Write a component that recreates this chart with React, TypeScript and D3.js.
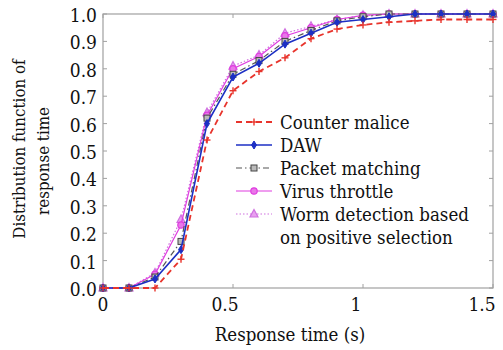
import React from "react";
import * as d3 from "d3";

const xValues = [0, 0.1, 0.2, 0.3, 0.4, 0.5, 0.6, 0.7, 0.8, 0.9, 1.0, 1.1, 1.2, 1.3, 1.4, 1.5];
const counterMalice = [0, 0, 0, 0.105, 0.54, 0.72, 0.79, 0.84, 0.91, 0.945, 0.96, 0.97, 0.975, 0.98, 0.98, 0.98];
const daw = [0, 0, 0.033, 0.14, 0.6, 0.77, 0.82, 0.89, 0.93, 0.97, 0.98, 0.99, 1.0, 1.0, 1.0, 1.0];
const packetMatching = [0, 0, 0.04, 0.17, 0.62, 0.78, 0.83, 0.9, 0.94, 0.975, 0.99, 1.0, 1.0, 1.0, 1.0, 1.0];
const virusThrottle = [0, 0, 0.05, 0.23, 0.63, 0.8, 0.845, 0.92, 0.95, 0.98, 0.995, 1.0, 1.0, 1.0, 1.0, 1.0];
const wormDetection = [0, 0, 0.055, 0.25, 0.64, 0.81, 0.85, 0.93, 0.955, 0.98, 0.995, 1.0, 1.0, 1.0, 1.0, 1.0];

const xTicks = [0, 0.5, 1, 1.5];
const xTickLabels = ["0", "0.5", "1", "1.5"];
const yTicks = [0, 0.1, 0.2, 0.3, 0.4, 0.5, 0.6, 0.7, 0.8, 0.9, 1.0];

const seriesNames = ["Counter malice", "DAW", "Packet matching", "Virus throttle", "Worm detection based"];

type Series = {
  name: string;
  values: number[];
  color: string;
  dash: string;
  marker: string;
  width: number;
};

const series: Series[] = [
  { name: seriesNames[0], values: counterMalice, color: "#e8342c", dash: "6,4", marker: "plus", width: 1.8 },
  { name: seriesNames[1], values: daw, color: "#1c2fc4", dash: "", marker: "diamond", width: 1.6 },
  { name: seriesNames[2], values: packetMatching, color: "#555555", dash: "6,3,1.5,3", marker: "square", width: 1.2 },
  { name: seriesNames[3], values: virusThrottle, color: "#e03ce0", dash: "", marker: "circle", width: 1.2 },
  { name: seriesNames[4], values: wormDetection, color: "#d070e0", dash: "1.5,2", marker: "triangle", width: 1.2 },
];

const FONT = '"DejaVu Serif Condensed", "DejaVu Serif"';
const textStyle = { fontFamily: FONT, fontStretch: "condensed" as const };

function Marker({ type, x, y, color }: { type: string; x: number; y: number; color: string }) {
  if (type === "plus") {
    return (
      <g stroke={color} strokeWidth={1.4}>
        <line x1={x - 3.5} x2={x + 3.5} y1={y} y2={y} />
        <line x1={x} x2={x} y1={y - 3.5} y2={y + 3.5} />
      </g>
    );
  }
  if (type === "diamond") {
    return <path d={`M${x},${y - 4}L${x + 2.5},${y}L${x},${y + 4}L${x - 2.5},${y}Z`} fill={color} stroke={color} strokeWidth={1} />;
  }
  if (type === "square") {
    return <rect x={x - 3} y={y - 3} width={6} height={6} fill="#bbbbbb" stroke="#444" strokeWidth={1} />;
  }
  if (type === "circle") {
    return <circle cx={x} cy={y} r={3.2} fill="#e878e8" stroke={color} strokeWidth={1.2} />;
  }
  return <path d={`M${x},${y - 4.5}L${x + 4},${y + 3}L${x - 4},${y + 3}Z`} fill="#e8a0f0" stroke={color} strokeWidth={1.2} />;
}

export default function App() {
  const W = 503;
  const H = 350;
  const left = 103;
  const right = 493;
  const top = 14;
  const bottom = 288;
  const x = d3.scaleLinear().domain([0, 1.5]).range([left, right]);
  const y = d3.scaleLinear().domain([0, 1]).range([bottom, top]);

  const lineGen = (vals: number[]) =>
    d3
      .line<number>()
      .x((_, i) => x(xValues[i]))
      .y((d) => y(d))(vals) || "";

  const legendRows = [122, 145, 168, 191, 214];
  const xLabelShift = [0, -8, -7, -11];

  return (
    <svg width={W} height={H} style={{ position: "absolute", left: 0, top: 0, background: "#fff" }}>
      <rect x={0} y={0} width={W} height={H} fill="#fff" />
      <rect x={left} y={top} width={right - left} height={bottom - top} fill="none" stroke="#a0a0a0" strokeWidth={1.2} />
      {yTicks.map((t) => (
        <g key={"y" + t}>
          <line x1={left} x2={left + 4} y1={y(t)} y2={y(t)} stroke="#a0a0a0" />
          <line x1={right} x2={right - 4} y1={y(t)} y2={y(t)} stroke="#a0a0a0" />
          <text x={97} y={y(t) + 1} textAnchor="end" dominantBaseline="central" fontSize={19} fill="#111" style={textStyle}>
            {t.toFixed(1)}
          </text>
        </g>
      ))}
      {xTicks.map((t, i) => (
        <g key={"x" + t}>
          <line x1={x(t)} x2={x(t)} y1={bottom} y2={bottom - 4} stroke="#a0a0a0" />
          <line x1={x(t)} x2={x(t)} y1={top} y2={top + 4} stroke="#a0a0a0" />
          <text x={x(t) + xLabelShift[i]} y={311} textAnchor="middle" fontSize={19} fill="#111" style={textStyle}>
            {xTickLabels[i]}
          </text>
        </g>
      ))}
      {series
        .slice()
        .reverse()
        .map((s) => (
          <g key={s.name}>
            <path d={lineGen(s.values)} fill="none" stroke={s.color} strokeWidth={s.width} strokeDasharray={s.dash} />
            {s.values.map((v, i) => (
              <Marker key={i} type={s.marker} x={x(xValues[i])} y={y(v)} color={s.color} />
            ))}
          </g>
        ))}
      <rect x={232} y={110} width={236} height={138} fill="#fff" />
      {series.map((s, i) => {
        const ly = legendRows[i];
        return (
          <g key={"lg" + i}>
            <line x1={236} x2={272} y1={ly} y2={ly} stroke={s.color} strokeWidth={s.width} strokeDasharray={s.dash} />
            <Marker type={s.marker} x={254} y={ly} color={s.color} />
            <text x={280} y={ly} dominantBaseline="central" fontSize={18.5} fill="#111" style={textStyle}>
              {s.name}
            </text>
          </g>
        );
      })}
      <text x={280} y={237} dominantBaseline="central" fontSize={18.5} fill="#111" style={textStyle}>
        on positive selection
      </text>
      <text x={290} y={341} textAnchor="middle" fontSize={18.5} fill="#111" style={textStyle}>
        Response time (s)
      </text>
      <text transform="translate(25,149) rotate(-90)" textAnchor="middle" fontSize={16.8} fill="#111" style={textStyle}>
        Distribution function of
      </text>
      <text transform="translate(49,161) rotate(-90)" textAnchor="middle" fontSize={16.8} fill="#111" style={textStyle}>
        response time
      </text>
    </svg>
  );
}
